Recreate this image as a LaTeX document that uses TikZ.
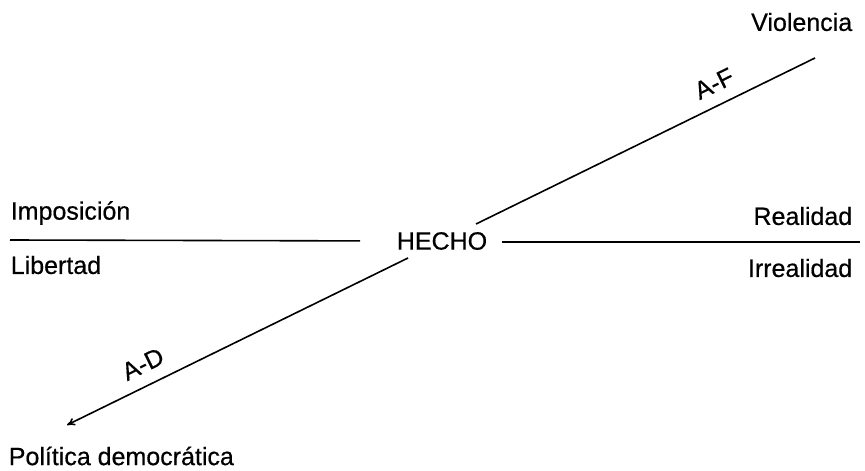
\documentclass[tikz,border=0pt]{standalone}
\usepackage{fontspec}
\setmainfont[UprightFeatures={FakeBold=0.5}]{Liberation Sans}
\usepackage{tikz}
\usetikzlibrary{arrows.meta}

\begin{document}
\begin{tikzpicture}[x=0.5pt, y=-0.5pt, line width=0.8pt,
    lbl/.style={inner sep=0pt, font=\fontsize{12.5}{14}\selectfont},
    tag/.style={lbl, sloped, above=6pt}]

  \useasboundingbox (0,0) rectangle (865,470);

  %% centre
  \node[lbl] (hecho) at (442,241) {HECHO};

  %% horizontal axis
  \node[lbl, anchor=west] (impo) at (10,213) {Imposición};
  \node[lbl, anchor=west] (libe) at (10,265) {Libertad};
  \node[lbl, anchor=east] (real) at (853,216) {Realidad};
  \node[lbl, anchor=east] (irre) at (853,268) {Irrealidad};
  \coordinate (hl) at (10,240);
  \coordinate (hr) at (860,242);
  \draw[shorten >=18pt] (hl) -- (hecho.west); % Imposicion/Libertad
  \draw[shorten <=7pt] (hecho.east |- hr) -- (hr); % Realidad/Irrealidad

  %% diagonal axis
  \node[lbl, anchor=east] (viol) at (853,22) {Violencia};
  \node[lbl, anchor=west] (poli) at (8,456) {Política democrática};
  \coordinate (af0) at (476,224);
  \coordinate (af1) at (815,58);
  \coordinate (ad0) at (408,258);
  \coordinate (ad1) at (67,425);
  \draw (af0) -- node[tag, pos=0.73] (af) {A-F} (af1); % towards Violencia
  \draw[-{To[length=4pt,width=4pt]}] (ad0) -- node[tag, pos=0.75] (ad) {A-D} (ad1); % towards Politica

\end{tikzpicture}
\end{document}
